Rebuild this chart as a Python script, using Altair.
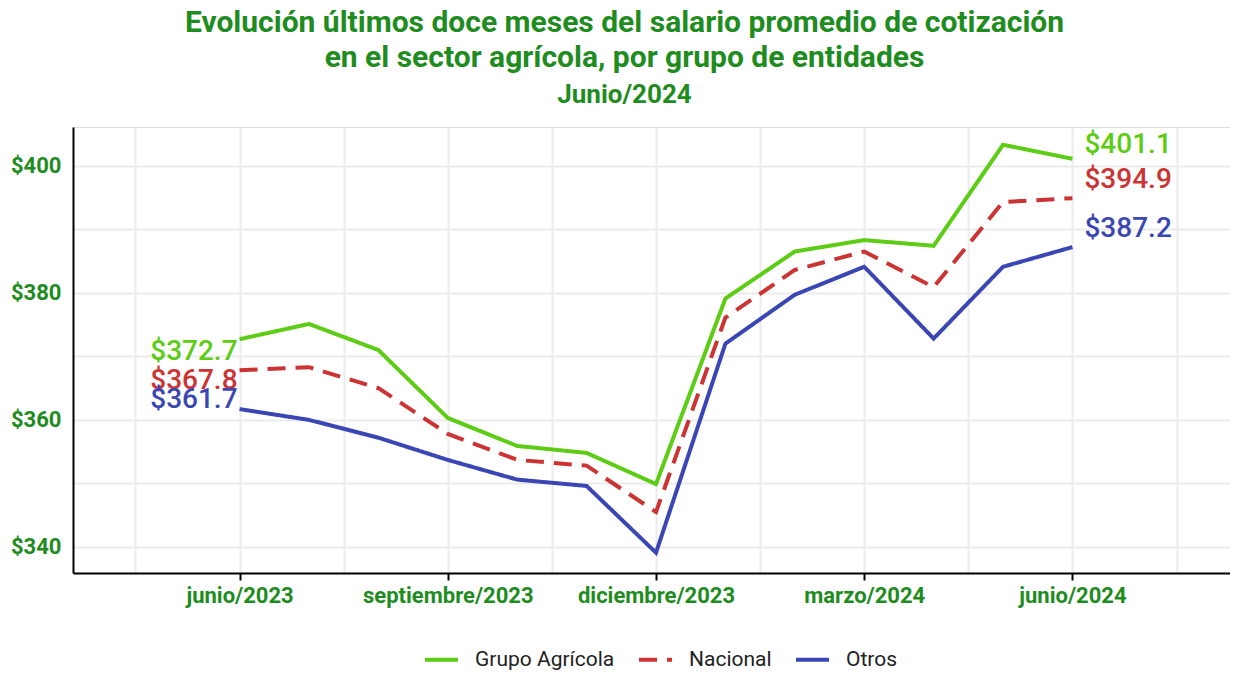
import altair as alt
import pandas as pd

months = ["junio/2023", "julio/2023", "agosto/2023", "septiembre/2023", "octubre/2023",
          "noviembre/2023", "diciembre/2023", "enero/2024", "febrero/2024", "marzo/2024",
          "abril/2024", "mayo/2024", "junio/2024"]
month_index = list(range(13))
grupo_agricola = [372.7, 375.1, 371.0, 360.3, 355.9, 354.8, 349.9, 379.1, 386.5, 388.3, 387.4, 403.3, 401.1]
nacional = [367.8, 368.3, 365.0, 357.8, 353.7, 352.8, 345.5, 376.1, 383.6, 386.5, 380.9, 394.3, 394.9]
otros = [361.7, 360.0, 357.2, 353.7, 350.6, 349.6, 339.1, 372.0, 379.7, 384.1, 372.8, 384.1, 387.2]
series_names = ["Grupo Agrícola", "Nacional", "Otros"]
series_values = [grupo_agricola, nacional, otros]
series_colors = ["#5ccc14", "#cc3333", "#3a46b4"]
series_dash = [[1, 0], [18, 10], [1, 0]]
tick_labels = {0: "junio/2023", 3: "septiembre/2023", 6: "diciembre/2023", 9: "marzo/2024", 12: "junio/2024"}

rows = []
for name, vals in zip(series_names, series_values):
    for i, m, v in zip(month_index, months, vals):
        rows.append({"serie": name, "idx": i, "mes": m, "valor": v, "etiqueta": f"${v:.1f}"})
df = pd.DataFrame(rows)

GREEN_TXT = "#1e8c1e"
FONT = "Roboto"

label_expr = "".join(f"datum.value == {k} ? '{v}' : " for k, v in tick_labels.items()) + "''"

x_enc = alt.X("idx:Q",
              scale=alt.Scale(domain=[-2.4, 14.27], nice=False, zero=False),
              axis=alt.Axis(values=[-1.5 + 1.5 * i for i in range(11)],
                            labelExpr=label_expr, title=None,
                            labelFont=FONT, labelFontWeight="bold", labelFontSize=22,
                            labelColor=GREEN_TXT, labelPadding=5,
                            tickSize=7, tickWidth=2, tickColor="black",
                            tickOpacity={"condition": {"test": "datum.value % 3 == 0", "value": 1}, "value": 0},
                            domainColor="black", domainWidth=2,
                            grid=True, gridColor="#ebebeb", gridWidth=2))
y_enc = alt.Y("valor:Q",
              scale=alt.Scale(domain=[335.9, 406.1], nice=False, zero=False),
              axis=alt.Axis(values=[340, 350, 360, 370, 380, 390, 400],
                            labelExpr="datum.value % 20 == 0 ? '$' + datum.value : ''",
                            title=None, ticks=False,
                            labelFont=FONT, labelFontWeight="bold", labelFontSize=22,
                            labelColor=GREEN_TXT, labelPadding=12,
                            domainColor="black", domainWidth=2,
                            grid=True, gridColor="#ebebeb", gridWidth=2))

legend_kw = dict(orient="none", legendX=350, legendY=514,
                 direction="horizontal", title=None,
                 symbolType="stroke", symbolStrokeWidth=4, symbolSize=1089,
                 labelFont=FONT, labelFontSize=21, labelColor="#222222",
                 labelOffset=15, columnPadding=16)

lines = alt.Chart(df).mark_line(strokeWidth=4).encode(
    x=x_enc,
    y=y_enc,
    color=alt.Color("serie:N",
                    scale=alt.Scale(domain=series_names, range=series_colors),
                    legend=alt.Legend(**legend_kw)),
    strokeDash=alt.StrokeDash("serie:N",
                              scale=alt.Scale(domain=series_names, range=series_dash),
                              legend=alt.Legend(**legend_kw)),
    detail="serie:N",
)

left_dy = [13, 11, -9]
right_dy = [-14, -18, -18]
layers = [lines]
for name, color, ldy, rdy in zip(series_names, series_colors, left_dy, right_dy):
    base = alt.Chart(df).transform_filter(alt.datum.serie == name)
    layers.append(base.transform_filter(alt.datum.idx == 0).mark_text(
        align="right", baseline="middle", dx=-2, dy=ldy, fontSize=28, fontWeight=500,
        font=FONT, color=color
    ).encode(x="idx:Q", y="valor:Q", text="etiqueta:N"))
    layers.append(base.transform_filter(alt.datum.idx == 12).mark_text(
        align="left", baseline="middle", dx=12, dy=rdy, fontSize=28, fontWeight=500,
        font=FONT, color=color
    ).encode(x="idx:Q", y="valor:Q", text="etiqueta:N"))

chart = alt.layer(*layers).properties(
    width=1157,
    height=446,
    autosize=alt.AutoSizeParams(type="none"),
    padding={"left": 65, "top": 119, "right": 0, "bottom": 98},
    title=alt.TitleParams(
        text=["Evolución últimos doce meses del salario promedio de cotización",
              "en el sector agrícola, por grupo de entidades"],
        subtitle="Junio/2024",
        font=FONT, fontSize=30, fontWeight="bold", color=GREEN_TXT,
        subtitleFont=FONT, subtitleFontSize=26, subtitleFontWeight="bold", subtitleColor=GREEN_TXT,
        lineHeight=35, subtitlePadding=9, anchor="middle", dx=-27, offset=19,
    ),
).configure_view(stroke=None).configure(background="white")

chart.save("out.html", embed_options={"renderer": "svg", "actions": False})
